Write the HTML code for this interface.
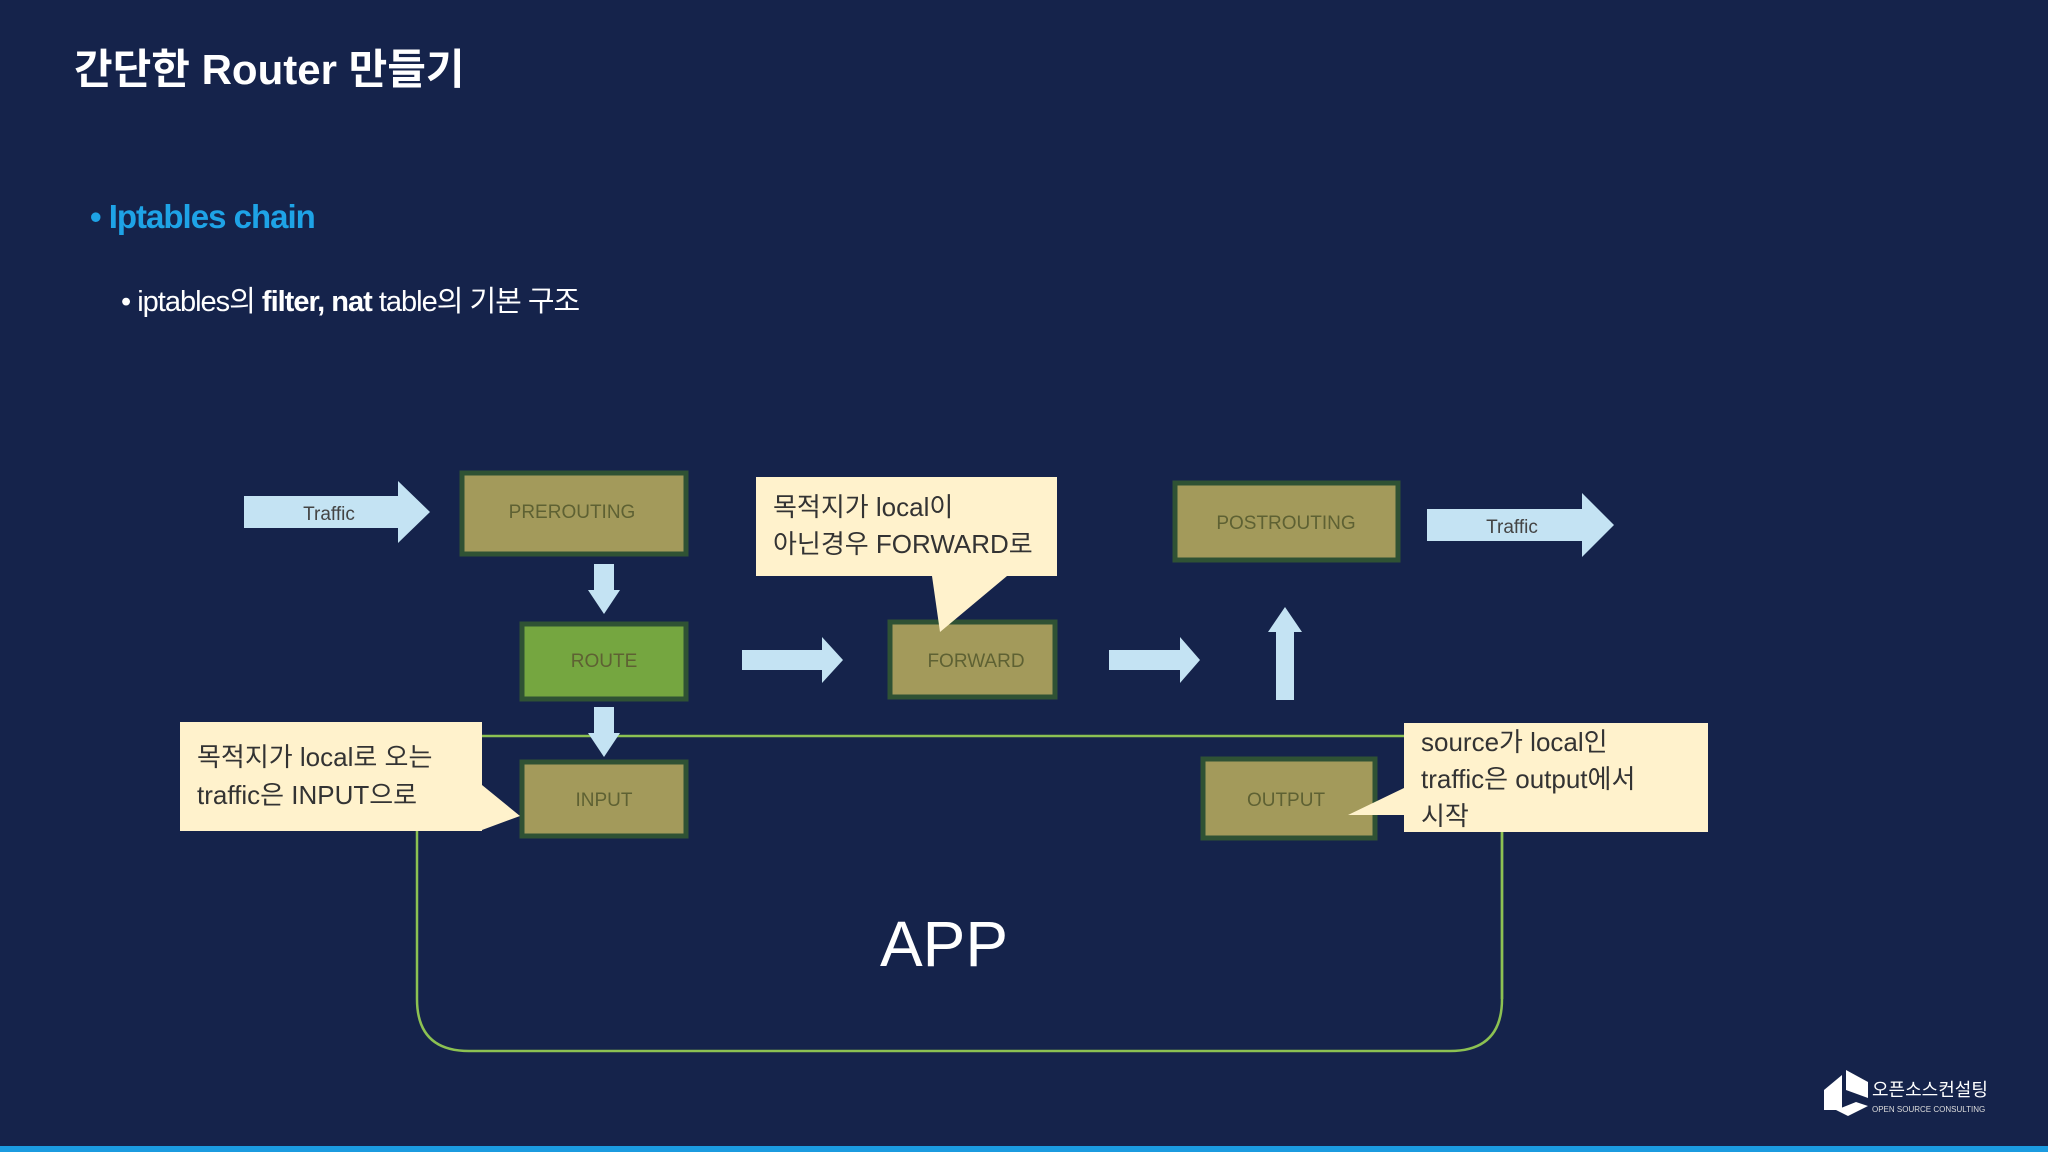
<!DOCTYPE html>
<html><head><meta charset="utf-8"><style>
html,body{margin:0;padding:0;background:#15234b;}
svg{display:block}
text{font-family:"Liberation Sans","Noto Sans CJK KR",sans-serif;}
</style></head><body>
<svg width="2048" height="1152" viewBox="0 0 2048 1152" xmlns="http://www.w3.org/2000/svg">
<rect width="2048" height="1152" fill="#15234b"/>
<text x="74" y="84" font-size="42" font-weight="bold" fill="#ffffff">간단한 Router 만들기</text>
<text x="90" y="228" font-size="33" fill="#1ea3e6" font-weight="bold" letter-spacing="-1">• Iptables chain</text>
<text x="121" y="311" font-size="29" fill="#ffffff" letter-spacing="-1">• iptables의 <tspan font-weight="bold">filter, nat</tspan> table의 기본 구조</text>

<!-- APP box -->
<path d="M417 736 H1502 V999 Q1502 1051 1450 1051 H469 Q417 1051 417 999 Z" fill="none" stroke="#8cc152" stroke-width="2.5"/>
<text x="944" y="966" font-size="64" fill="#ffffff" text-anchor="middle">APP</text>

<!-- arrows -->
<polygon points="244,496 398,496 398,481 430,512 398,543 398,528 244,528" fill="#c4e3f3"/>
<text x="329" y="520" font-size="19" fill="#444" text-anchor="middle">Traffic</text>
<polygon points="594,564 614,564 614,590 620,590 604,614 588,590 594,590" fill="#c4e3f3"/>
<polygon points="594,707 614,707 614,733 620,733 604,757 588,733 594,733" fill="#c4e3f3"/>
<polygon points="742,650 822,650 822,637 843,660 822,683 822,670 742,670" fill="#c4e3f3"/>
<polygon points="1109,650 1180,650 1180,637 1200,660 1180,683 1180,670 1109,670" fill="#c4e3f3"/>
<polygon points="1276,700 1294,700 1294,632 1302,632 1285,607 1268,632 1276,632" fill="#c4e3f3"/>
<polygon points="1427,509 1582,509 1582,493 1614,525 1582,557 1582,541 1427,541" fill="#c4e3f3"/>
<text x="1512" y="533" font-size="19" fill="#444" text-anchor="middle">Traffic</text>

<!-- boxes -->
<g stroke="#2f5234" stroke-width="5" fill="#a39a5b">
<rect x="462" y="473" width="224" height="81"/>
<rect x="522" y="624" width="164" height="75" fill="#75a640"/>
<rect x="890" y="622" width="165" height="75"/>
<rect x="1175" y="483" width="223" height="77"/>
<rect x="522" y="762" width="164" height="74"/>
<rect x="1203" y="759" width="172" height="79"/>
</g>
<g font-size="19" fill="#5e6133" text-anchor="middle">
<text x="572" y="518">PREROUTING</text>
<text x="604" y="667">ROUTE</text>
<text x="976" y="667">FORWARD</text>
<text x="1286" y="529">POSTROUTING</text>
<text x="604" y="806">INPUT</text>
<text x="1286" y="806">OUTPUT</text>
</g>

<!-- callouts -->
<g fill="#fff2cc">
<path d="M756 477 H1057 V576 H1007 L940 632 L932 576 H756 Z"/>
<path d="M180 722 H482 V785 L520 816 L482 830 V831 H180 Z"/>
<path d="M1404 723 H1708 V832 H1404 V815 L1348 815 L1404 788 Z"/>
</g>
<g font-size="26" fill="#333">
<text x="773" y="516">목적지가 local이</text>
<text x="773" y="553">아닌경우 FORWARD로</text>
<text x="197" y="766">목적지가 local로 오는</text>
<text x="197" y="804">traffic은 INPUT으로</text>
<text x="1421" y="751">source가 local인</text>
<text x="1421" y="788">traffic은 output에서</text>
<text x="1421" y="825">시작</text>
</g>
<line x1="1502" y1="832" x2="1502" y2="999" stroke="#8cc152" stroke-width="2.5"/>

<!-- logo -->
<g fill="#ffffff">
<polygon points="1824,1090 1842,1075 1842,1110 1824,1110"/>
<polygon points="1846,1070 1868,1082 1868,1098 1846,1090"/>
<polygon points="1836,1110 1856,1102 1868,1106 1848,1116"/>
</g>
<text x="1872" y="1096" font-size="18" fill="#fff">오픈소스컨설팅</text>
<text x="1872" y="1112" font-size="8" fill="#ddd">OPEN SOURCE CONSULTING</text>
<rect x="0" y="1146" width="2048" height="6" fill="#1b9be0"/>
</svg>
</body></html>
